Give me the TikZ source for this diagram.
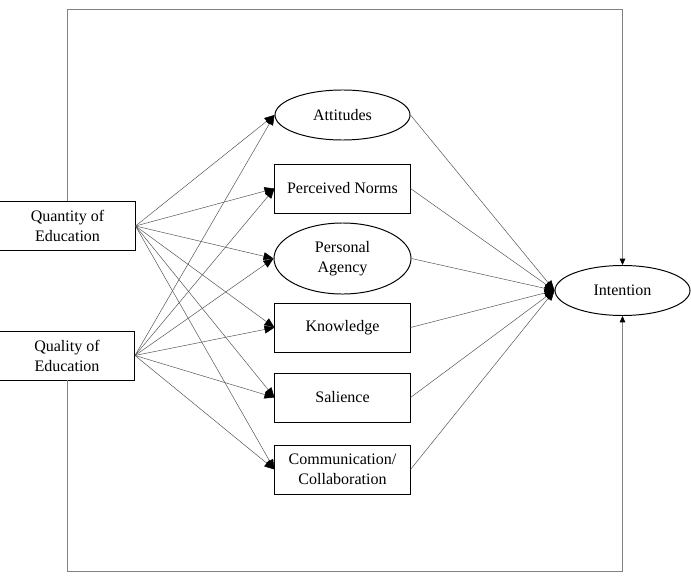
\documentclass[tikz,border=0pt]{standalone}
\usepackage{fontspec}
\setmainfont{Liberation Serif}
\usepackage{tikz}
\usetikzlibrary{arrows.meta,positioning,shapes.geometric}
\definecolor{lineg}{RGB}{85,85,85}
\definecolor{frameg}{RGB}{130,130,130}

\begin{document}
\begin{tikzpicture}[x=0.025cm, y=-0.025cm,
  every node/.style={font=\fontsize{11.4}{14.2}\selectfont},
  varbox/.style={draw, line width=0.7pt, align=center, minimum width=3.375cm, minimum height=1.225cm, inner sep=0pt},
  varell/.style={draw, ellipse, line width=0.7pt, align=center, minimum width=3.375cm, minimum height=1.25cm, inner sep=0pt},
  arr/.style={-{Triangle[length=0.25cm, width=0.2cm, black]}, lineg, line width=0.35pt},
  frm/.style={-{Triangle[length=0.16cm, width=0.14cm, black]}, frameg, line width=0.6pt}
]
\useasboundingbox (0,0) rectangle (691,577);
\node[varbox] (qty) at (67.5,226) {Quantity of\\Education};
\node[varbox] (qual) at (67,355.5) {Quality of\\Education};
\node[varell] (att) at (342.5,115) {Attitudes};
\node[varbox, below=0.575cm of att] (norms) {Perceived Norms};
\node[varell, minimum width=3.425cm, minimum height=1.775cm, below=0.225cm of norms] (agency) {Personal\\Agency};
\node[varbox, below=0.2cm of agency] (know) {Knowledge};
\node[varbox, below=0.5cm of know] (sal) {Salience};
\node[varbox, below=0.55cm of sal] (comm) {Communication/\\Collaboration};
\node[varell] (int) at (622.5,290.5) {Intention};
\coordinate (topline) at (0,9);
\coordinate (botline) at (0,571);
\draw[frm] (qty.north) -- (qty.north |- topline) -| (int.north);
\draw[frm] (qual.south) -- (qual.south |- botline) -| (int.south);
\draw[arr] (qty.east) -- (att.west);
\draw[arr] (qty.east) -- (norms.west);
\draw[arr] (qty.east) -- (agency.west);
\draw[arr] (qty.east) -- (know.west);
\draw[arr] (qty.east) -- (sal.west);
\draw[arr] (qty.east) -- (comm.west);
\draw[arr] (qual.east) -- (att.west);
\draw[arr] (qual.east) -- (norms.west);
\draw[arr] (qual.east) -- (agency.west);
\draw[arr] (qual.east) -- (know.west);
\draw[arr] (qual.east) -- (sal.west);
\draw[arr] (qual.east) -- (comm.west);
\draw[arr] (att.east) -- (int.west);
\draw[arr] (norms.east) -- (int.west);
\draw[arr] (agency.east) -- (int.west);
\draw[arr] (know.east) -- (int.west);
\draw[arr] (sal.east) -- (int.west);
\draw[arr] (comm.east) -- (int.west);
\end{tikzpicture}
\end{document}
